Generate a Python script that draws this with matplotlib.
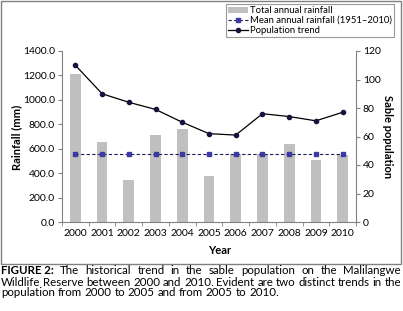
import numpy as np
import matplotlib
matplotlib.use('Agg')
import matplotlib.pyplot as plt
from matplotlib.patches import Rectangle

# Sable population and rainfall, Malilangwe #
years = ['2000', '2001', '2002', '2003', '2004', '2005',
         '2006', '2007', '2008', '2009', '2010']
rainfall = [1215, 658, 342, 712, 765, 380, 558, 553, 635, 510, 548]
mean_rain = [560] * 11
population = [110, 90, 84, 79, 70, 62, 61, 76, 74, 71, 77]

caption_lines = [
    ['FIGURE 2:', 'The', 'historical', 'trend', 'in', 'the', 'sable', 'population',
     'on', 'the', 'Malilangwe'],
    ['Wildlife', 'Reserve', 'between', '2000', 'and', '2010.', 'Evident', 'are', 'two',
     'distinct', 'trends', 'in', 'the'],
    ['population', 'from', '2000', 'to', '2005', 'and', 'from', '2005', 'to', '2010.'],
]

plt.rcParams['font.family'] = ['Lato', 'DejaVu Sans']
W, H = 403, 311
fig = plt.figure(figsize=(W / 100, H / 100), dpi=100)
ax = fig.add_axes([62 / W, 1 - 222 / H, (356 - 62) / W, (222 - 51) / H])
ax2 = ax.twinx()

x = np.arange(len(years))
bars = ax.bar(x, rainfall, width=0.4, color='#c0c0c0', zorder=1)
mline, = ax.plot(x, mean_rain, ls='--', lw=0.8, color='#202050', marker='s',
                 ms=2.5, mfc='#3a3aa0', mec='#3a3aa0', dashes=(3, 2), zorder=3)
pline, = ax2.plot(x, population, color='black', lw=0.9, marker='o', ms=3,
                  mfc='#141440', mec='#141440', zorder=4)

ax.set_xlim(-0.5, len(years) - 0.5)
ax.set_ylim(0, 1400)
ax.set_yticks(np.arange(0, 1401, 200))
ax.set_yticklabels(['%.1f' % v for v in np.arange(0, 1401, 200)])
ax2.set_ylim(0, 120)
ax2.set_yticks(np.arange(0, 121, 20))

ax.set_xticks(x)
ax.set_xticklabels(years)
ax.set_xticks(np.arange(-0.5, len(years)), minor=True)
ax.tick_params(axis='x', which='major', length=0, pad=5, labelsize=7.5)
ax.tick_params(axis='x', which='minor', length=3, color='#808080')
ax.tick_params(axis='y', length=3, labelsize=7.5, color='#808080', pad=2)
ax2.tick_params(axis='y', length=3, labelsize=7.5, color='#808080', pad=2)

for a in (ax, ax2):
    a.spines['top'].set_visible(False)
    for s in ('left', 'right', 'bottom'):
        a.spines[s].set_color('#808080')
        a.spines[s].set_linewidth(0.8)
ax.spines['right'].set_visible(False)
ax2.spines['left'].set_visible(False)
ax2.spines['bottom'].set_visible(False)

fig.text(17 / W, 1 - 137 / H, 'Rainfall (mm)', rotation=90, fontsize=8,
         fontweight='bold', ha='center', va='center')
fig.text(388 / W, 1 - 137 / H, 'Sable population', rotation=270, fontsize=8,
         fontweight='bold', ha='center', va='center')
fig.text(220 / W, 1 - 251 / H, 'Year', fontsize=8, fontweight='bold',
         ha='center', va='center')

leg = fig.legend([bars, mline, pline],
                 ['Total annual rainfall', 'Mean annual rainfall (1951\u20132010)',
                  'Population trend'],
                 loc='upper right', bbox_to_anchor=(394 / W, 1 - 4 / H),
                 fontsize=6.8, frameon=True, fancybox=False, borderpad=0.2,
                 labelspacing=0.1, handlelength=2.2, handletextpad=0.2,
                 borderaxespad=0, handleheight=0.6)
leg.get_frame().set_edgecolor('#808080')
leg.get_frame().set_linewidth(0.8)

# outer frame
fig.patches.append(Rectangle((1 / W, 1 - 264 / H), 400 / W, 263 / H,
                             transform=fig.transFigure, fill=False,
                             edgecolor='#808080', lw=1))

# justified caption
renderer = fig.canvas.get_renderer()
left, right = 1 / W, 401 / W
line_y = [271, 282, 293]
for i, words in enumerate(caption_lines):
    texts = []
    for w in words:
        bold = w.startswith('FIGURE')
        texts.append(fig.text(0, 1 - line_y[i] / H, w, fontsize=8.3,
                              fontweight='bold' if bold else 'normal',
                              va='center', ha='left'))
    widths = [t.get_window_extent(renderer).width / W for t in texts]
    if i < len(caption_lines) - 1:
        gap = (right - left - sum(widths)) / (len(words) - 1)
    else:
        gap = 2.8 / W
    xpos = left
    for t, wdt in zip(texts, widths):
        t.set_x(xpos)
        xpos += wdt + gap

fig.savefig('out.png', dpi=100)
